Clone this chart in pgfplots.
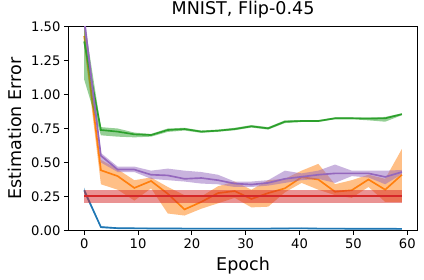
\documentclass[border=0pt]{standalone}
\usepackage{pgfplots}
\pgfplotsset{compat=1.18}
\usepackage{fontspec}
\setmainfont{DejaVu Sans}
\definecolor{tabblue}{HTML}{1F77B4}
\definecolor{taborange}{HTML}{FF7F0E}
\definecolor{tabgreen}{HTML}{2CA02C}
\definecolor{tabred}{HTML}{D62728}
\definecolor{tabpurple}{HTML}{9467BD}

\begin{document}
\begin{tikzpicture}
\path[use as bounding box] (-68.3bp,-49.5bp) rectangle (355.7bp,230.5bp);
\begin{axis}[
  scale only axis,
  width=349.5bp, height=204bp,
  at={(0,0)}, anchor=south west,
  xmin=-2.95, xmax=61.95, ymin=0, ymax=1.5,
  xtick={0,10,20,30,40,50,60},
  ytick={0,0.25,0.5,0.75,1,1.25,1.5},
  tick pos=left, tick align=outside,
  major tick length=4.3bp,
  every tick/.style={black, line width=0.88bp},
  axis line style={line width=0.88bp},
  /pgf/number format/assume math mode=true,
  yticklabel style={/pgf/number format/fixed, /pgf/number format/fixed zerofill, /pgf/number format/precision=2},
  tick label style={font=\fontsize{13.2}{15}\selectfont},
  label style={font=\fontsize{17.6}{20}\selectfont},
  title style={font=\fontsize{17.6}{20}\selectfont, at={(axis description cs:0.5,1.0284)}, anchor=base},
  xlabel style={at={(axis description cs:0.5,-0.1985)}, anchor=base},
  ylabel style={at={(axis description cs:-0.1333,0.5)}, anchor=base},
  title={MNIST, Flip-0.45},
  xlabel={Epoch},
  ylabel={Estimation Error},
]
% blue
\addplot[draw=none, fill=tabblue, fill opacity=0.5, forget plot] coordinates {
(0,0.315)(3.105,0.032)(6.211,0.022)(9.316,0.021)(12.421,0.020)(15.526,0.020)(18.632,0.019)(21.737,0.019)(24.842,0.019)(27.947,0.019)(31.053,0.019)(34.158,0.019)(37.263,0.020)(40.368,0.021)(43.474,0.019)(46.579,0.019)(49.684,0.018)(52.789,0.018)(55.895,0.018)(59,0.017)
(59,0.007)(55.895,0.008)(52.789,0.008)(49.684,0.008)(46.579,0.009)(43.474,0.009)(40.368,0.011)(37.263,0.010)(34.158,0.009)(31.053,0.009)(27.947,0.009)(24.842,0.009)(21.737,0.009)(18.632,0.009)(15.526,0.010)(12.421,0.010)(9.316,0.011)(6.211,0.012)(3.105,0.018)(0,0.275)
};
\addplot[tabblue, line width=1.65bp] coordinates {
(0,0.295)(3.105,0.025)(6.211,0.017)(9.316,0.016)(12.421,0.015)(15.526,0.015)(18.632,0.014)(21.737,0.014)(24.842,0.014)(27.947,0.014)(31.053,0.014)(34.158,0.014)(37.263,0.015)(40.368,0.016)(43.474,0.014)(46.579,0.014)(49.684,0.013)(52.789,0.013)(55.895,0.013)(59,0.012)
};
% orange
\addplot[draw=none, fill=taborange, fill opacity=0.5, forget plot] coordinates {
(0,1.50)(3.105,0.52)(6.211,0.45)(9.316,0.37)(12.421,0.39)(15.526,0.32)(18.632,0.26)(21.737,0.25)(24.842,0.325)(27.947,0.36)(31.053,0.30)(34.158,0.37)(37.263,0.38)(40.368,0.44)(43.474,0.49)(46.579,0.34)(49.684,0.37)(52.789,0.41)(55.895,0.38)(59,0.60)
(59,0.21)(55.895,0.21)(52.789,0.32)(49.684,0.24)(46.579,0.26)(43.474,0.30)(40.368,0.35)(37.263,0.28)(34.158,0.175)(31.053,0.17)(27.947,0.24)(24.842,0.20)(21.737,0.16)(18.632,0.11)(15.526,0.125)(12.421,0.31)(9.316,0.22)(6.211,0.30)(3.105,0.34)(0,1.36)
};
\addplot[taborange, line width=1.65bp] coordinates {
(0,1.43)(3.105,0.443)(6.211,0.40)(9.316,0.313)(12.421,0.364)(15.526,0.27)(18.632,0.155)(21.737,0.21)(24.842,0.275)(27.947,0.29)(31.053,0.232)(34.158,0.275)(37.263,0.31)(40.368,0.392)(43.474,0.375)(46.579,0.285)(49.684,0.296)(52.789,0.375)(55.895,0.30)(59,0.41)
};
% green
\addplot[draw=none, fill=tabgreen, fill opacity=0.5, forget plot] coordinates {
(0,1.55)(3.105,0.76)(6.211,0.75)(9.316,0.72)(12.421,0.71)(15.526,0.75)(18.632,0.755)(21.737,0.735)(24.842,0.742)(27.947,0.755)(31.053,0.775)(34.158,0.76)(37.263,0.81)(40.368,0.812)(43.474,0.812)(46.579,0.832)(49.684,0.832)(52.789,0.83)(55.895,0.835)(59,0.862)
(59,0.848)(55.895,0.80)(52.789,0.81)(49.684,0.818)(46.579,0.818)(43.474,0.798)(40.368,0.798)(37.263,0.79)(34.158,0.742)(31.053,0.757)(27.947,0.737)(24.842,0.726)(21.737,0.718)(18.632,0.735)(15.526,0.725)(12.421,0.69)(9.316,0.685)(6.211,0.69)(3.105,0.70)(0,1.11)
};
\addplot[tabgreen, line width=1.65bp] coordinates {
(0,1.39)(3.105,0.739)(6.211,0.727)(9.316,0.707)(12.421,0.702)(15.526,0.739)(18.632,0.746)(21.737,0.727)(24.842,0.734)(27.947,0.746)(31.053,0.766)(34.158,0.751)(37.263,0.80)(40.368,0.805)(43.474,0.805)(46.579,0.825)(49.684,0.825)(52.789,0.823)(55.895,0.825)(59,0.855)
};
% red
\addplot[draw=none, fill=tabred, fill opacity=0.5, forget plot] coordinates {
(0,0.30)(59,0.30)(59,0.20)(0,0.20)
};
\addplot[tabred, line width=1.65bp] coordinates {
(0,0.253)(59,0.253)
};
% purple
\addplot[draw=none, fill=tabpurple, fill opacity=0.5, forget plot] coordinates {
(0,1.62)(3.105,0.57)(6.211,0.47)(9.316,0.47)(12.421,0.44)(15.526,0.455)(18.632,0.44)(21.737,0.43)(24.842,0.41)(27.947,0.36)(31.053,0.36)(34.158,0.37)(37.263,0.44)(40.368,0.42)(43.474,0.44)(46.579,0.485)(49.684,0.44)(52.789,0.44)(55.895,0.44)(59,0.445)
(59,0.415)(55.895,0.34)(52.789,0.39)(49.684,0.40)(46.579,0.35)(43.474,0.38)(40.368,0.37)(37.263,0.35)(34.158,0.33)(31.053,0.32)(27.947,0.32)(24.842,0.34)(21.737,0.345)(18.632,0.36)(15.526,0.37)(12.421,0.38)(9.316,0.43)(6.211,0.43)(3.105,0.50)(0,1.48)
};
\addplot[tabpurple, line width=1.65bp] coordinates {
(0,1.55)(3.105,0.55)(6.211,0.448)(9.316,0.448)(12.421,0.41)(15.526,0.405)(18.632,0.38)(21.737,0.386)(24.842,0.37)(27.947,0.345)(31.053,0.338)(34.158,0.35)(37.263,0.38)(40.368,0.395)(43.474,0.41)(46.579,0.42)(49.684,0.42)(52.789,0.42)(55.895,0.394)(59,0.43)
};
\end{axis}
\end{tikzpicture}
\end{document}
